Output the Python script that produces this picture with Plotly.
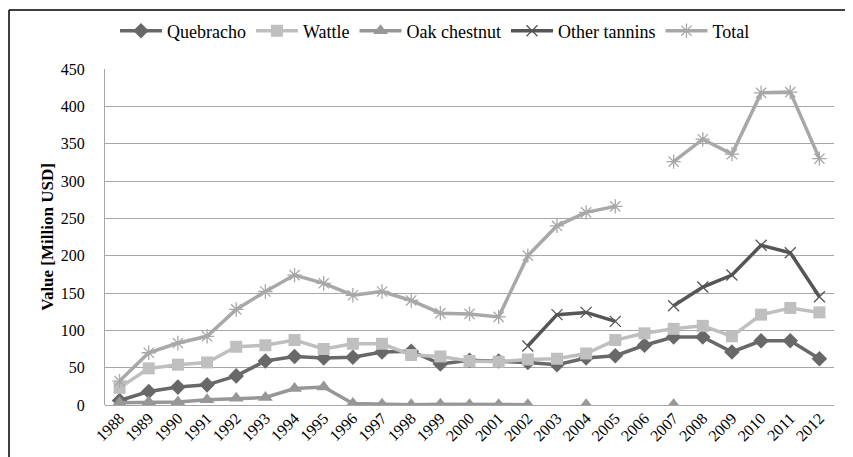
import plotly.graph_objects as go

years = [str(y) for y in range(1988, 2013)]
quebracho = [6, 18, 24, 27, 39, 59, 65, 63, 64, 71, 72, 55, 60, 59, 57, 54, 63, 66, 80, 91, 91, 71, 86, 86, 62]
wattle = [23, 49, 54, 57, 78, 80, 87, 75, 82, 82, 67, 65, 59, 58, 61, 62, 69, 87, 96, 102, 106, 92, 121, 130, 124]
oak_chestnut = [3, 4, 4, 7, 9, 10, 22, 24, 2, 1, 0.5, 1, 0.5, 0.5, 0.5, None, 0.5, None, None, 0.5, None, None, None, None, None]
other_tannins = [None]*14 + [79, 121, 124, 112, None, 133, 158, 174, 214, 204, 145]
total = [32, 70, 83, 92, 128, 152, 174, 163, 147, 152, 140, 123, 122, 118, 200, 240, 258, 266, None, 326, 356, 336, 418, 419, 330]

y_ticks = [0, 50, 100, 150, 200, 250, 300, 350, 400, 450]

FONT = "Liberation Serif"

fig = go.Figure()

def add(name, vals, color, symbol, size, open_marker=False):
    marker = dict(symbol=symbol, size=size, color=color)
    if open_marker:
        marker["line"] = dict(color=color, width=1.3)
    fig.add_trace(go.Scatter(
        x=years, y=vals, name=name, mode="lines+markers",
        line=dict(color=color, width=3.5),
        marker=marker, connectgaps=False,
    ))

add("Quebracho", quebracho, "#686868", "diamond", 12)
add("Wattle", wattle, "#bfbfbf", "square", 12)
add("Oak chestnut", oak_chestnut, "#979797", "triangle-up", 13)
add("Other tannins", other_tannins, "#555555", "x-thin-open", 11, True)
add("Total", total, "#a8a8a8", "asterisk-open", 12, True)

# page body has an 8px margin; figure is sized to fill the rest of the window
OFF = 8
W, H = 853 - OFF, 457 - OFF
L, R, T = 105 - OFF, 19, 69 - OFF
B = H - T - 336
pw, ph = W - L - R, H - T - B

def px(xp):  # page x -> paper x
    return (xp - OFF - L) / pw

def py(yp):  # page y -> paper y
    return (H - B - (yp - OFF)) / ph

fig.update_layout(
    width=W, height=H,
    margin=dict(l=L, r=R, t=T, b=B, autoexpand=False),
    paper_bgcolor="white", plot_bgcolor="white",
    font=dict(family=FONT, size=16, color="black"),
    showlegend=True,
    legend=dict(orientation="h", x=px(435), xanchor="center", y=py(31), yanchor="middle",
                font=dict(family=FONT, size=18), itemwidth=42, tracegroupgap=0,
                bgcolor="rgba(0,0,0,0)"),
    xaxis=dict(type="category", categoryorder="array", categoryarray=years,
               range=[-0.5, len(years) - 0.5], tickangle=-45, automargin=False,
               tickfont=dict(family=FONT, size=16), showgrid=False,
               showline=False, zeroline=False, ticks=""),
    yaxis=dict(range=[0, 450], tickvals=y_ticks, showgrid=True, gridcolor="#a6a6a6",
               gridwidth=1, zeroline=True, zerolinecolor="#a6a6a6", zerolinewidth=1,
               showline=True, linecolor="#a6a6a6", linewidth=1, automargin=False,
               tickfont=dict(family=FONT, size=16), ticks="", ticklabelstandoff=16,
               title=dict(text="<b>Value [Million USD]</b>", font=dict(family=FONT, size=17),
                          standoff=2)),
    shapes=[
        dict(type="line", xref="paper", yref="paper", x0=px(9), x1=px(9), y0=py(10), y1=py(470),
             line=dict(color="black", width=1.5)),
        dict(type="line", xref="paper", yref="paper", x0=px(9), x1=px(870), y0=py(10), y1=py(10),
             line=dict(color="black", width=1.5)),
    ],
)

fig.write_html("out.html")
